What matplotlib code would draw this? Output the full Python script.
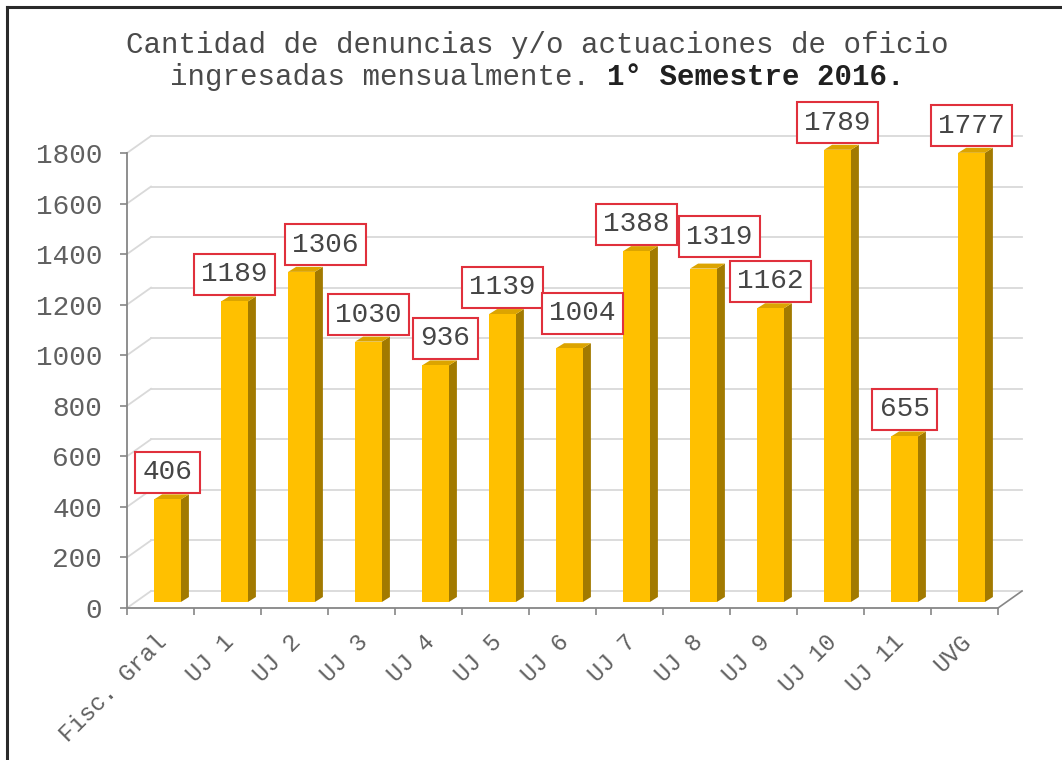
import matplotlib
matplotlib.use('Agg')
import matplotlib.pyplot as plt
from matplotlib.patches import Polygon
from matplotlib.lines import Line2D
from matplotlib.transforms import IdentityTransform, ScaledTranslation

# ---------------- data ----------------
categories = ['Fisc. Gral', 'UJ 1', 'UJ 2', 'UJ 3', 'UJ 4', 'UJ 5', 'UJ 6',
              'UJ 7', 'UJ 8', 'UJ 9', 'UJ 10', 'UJ 11', 'UVG']
values = [406, 1189, 1306, 1030, 936, 1139, 1004, 1388, 1319, 1162, 1789, 655, 1777]
yticks = [0, 200, 400, 600, 800, 1000, 1200, 1400, 1600, 1800]
title_line1 = 'Cantidad de denuncias y/o actuaciones de oficio'
title_line2_normal = 'ingresadas mensualmente. '
title_line2_bold = '1° Semestre 2016.'

# label nudges (pixels right, pixels up) used to avoid overlapping labels
label_nudge = [(0, 0), (0, 0), (24, 0), (0, 0), (10, 0), (0, 0), (13, 8),
               (0, 0), (16, 5), (0, 0), (0, 0), (0, 0), (0, 0)]

# ---------------- style ----------------
W, H, DPI = 1062, 760, 100
FONT = 'Liberation Mono'
FRONT = '#FFC000'
SIDE = '#A27A00'
TOP = '#DCA400'
GRID = '#D9D9D9'
AXC = '#868686'
TXT = '#606060'
RED = '#E0303C'

BACK = (24, 17)       # back wall offset (px right, px up)
BF = (7, 6)           # bar front face depth offset
BB = (15, 11)         # bar back face depth offset
BAR_W = 0.40

fig = plt.figure(figsize=(W / DPI, H / DPI), dpi=DPI)
fig.patch.set_facecolor('white')

ax = fig.add_axes([127 / W, 1 - 608 / H, (998 - 127) / W, (608 - 153) / H])
ax.set_xlim(0, len(categories))
ax.set_ylim(0, 1800)
ax.patch.set_alpha(0)
for s in ['top', 'right']:
    ax.spines[s].set_visible(False)
for s in ['left', 'bottom']:
    ax.spines[s].set_color(AXC)
    ax.spines[s].set_linewidth(1.3)
    ax.spines[s].set_zorder(5)

ax.set_yticks(yticks)
ax.set_yticklabels([str(v) for v in yticks], fontfamily=FONT, fontsize=20, color=TXT)
ax.tick_params(axis='y', direction='out', length=5, width=1.2, color=AXC, pad=13)
ax.set_xticks(range(len(categories) + 1))
ax.set_xticklabels([])
ax.tick_params(axis='x', direction='out', length=5, width=1.2, color=AXC)


def d2p(x, y, off=(0, 0)):
    p = ax.transData.transform((x, y))
    return (p[0] + off[0], p[1] + off[1])


ident = IdentityTransform()

# back wall gridlines and side diagonals
for yv in yticks:
    a = d2p(0, yv, BACK)
    b = d2p(len(categories), yv, BACK)
    ax.add_line(Line2D([a[0], b[0]], [a[1], b[1]], color=GRID, lw=1.3,
                       transform=ident, clip_on=False, zorder=1))
    f = d2p(0, yv)
    ax.add_line(Line2D([f[0], a[0]], [f[1], a[1]], color=GRID, lw=1.3,
                       transform=ident, clip_on=False, zorder=1))
# floor right edge
f = d2p(len(categories), 0)
a = d2p(len(categories), 0, BACK)
ax.add_line(Line2D([f[0], a[0]], [f[1], a[1]], color=AXC, lw=1.2,
                   transform=ident, clip_on=False, zorder=1))

# bars
xc = [i + 0.5 for i in range(len(categories))]
front_tr = ax.transData + ScaledTranslation(BF[0] / DPI, BF[1] / DPI, fig.dpi_scale_trans)
ax.bar(xc, values, width=BAR_W, color=FRONT, edgecolor='none',
       transform=front_tr, zorder=3, clip_on=False)

for x, v in zip(xc, values):
    xl, xr = x - BAR_W / 2, x + BAR_W / 2
    side = [d2p(xr, 0, BF), d2p(xr, 0, BB), d2p(xr, v, BB), d2p(xr, v, BF)]
    top = [d2p(xl, v, BF), d2p(xr, v, BF), d2p(xr, v, BB), d2p(xl, v, BB)]
    ax.add_patch(Polygon(side, closed=True, facecolor=SIDE, edgecolor='none',
                         transform=ident, clip_on=False, zorder=2.9))
    ax.add_patch(Polygon(top, closed=True, facecolor=TOP, edgecolor='none',
                         transform=ident, clip_on=False, zorder=2.9))

# data labels
for x, v, (ndx, ndy) in zip(xc, values, label_nudge):
    ax.annotate(str(v), xy=(x, v), xytext=((BF[0] + ndx) * 0.72, (BF[1] + 14 + ndy) * 0.72),
                textcoords='offset points', ha='center', va='bottom',
                fontfamily=FONT, fontsize=20, color='#454545', zorder=6,
                annotation_clip=False,
                bbox=dict(boxstyle='square,pad=0.27', facecolor='white',
                          edgecolor=RED, linewidth=1.5))

# category labels
lab_tr = ax.transData + ScaledTranslation(-5 / DPI, -22 / DPI, fig.dpi_scale_trans)
for x, c in zip(xc, categories):
    ax.text(x, 0, c, transform=lab_tr, rotation=45, rotation_mode='anchor',
            ha='right', va='top', fontfamily=FONT, fontsize=17, color=TXT,
            clip_on=False)

# title
TFS = 21
adv = 0.6 * TFS * DPI / 72.0
cx = 537
fig.text(cx / W, 1 - 53 / H, title_line1, ha='center', va='baseline',
         fontfamily=FONT, fontsize=TFS, color='#4a4a4a')
total = len(title_line2_normal) + len(title_line2_bold)
x0 = cx - total * adv / 2
fig.text(x0 / W, 1 - 85 / H, title_line2_normal, ha='left', va='baseline',
         fontfamily=FONT, fontsize=TFS, color='#4a4a4a')
fig.text((x0 + len(title_line2_normal) * adv) / W, 1 - 85 / H, title_line2_bold,
         ha='left', va='baseline', fontfamily=FONT, fontsize=TFS,
         fontweight='bold', color='#202020')

# outer frame (top and left)
fig.add_artist(Line2D([6.5 / W, 6.5 / W], [0, 1 - 6.5 / H], color='#2a2a2a', lw=2.2,
                      transform=fig.transFigure))
fig.add_artist(Line2D([6.5 / W, 1], [1 - 6.5 / H, 1 - 6.5 / H], color='#2a2a2a', lw=2.2,
                      transform=fig.transFigure))

fig.savefig('out.png', dpi=DPI)
